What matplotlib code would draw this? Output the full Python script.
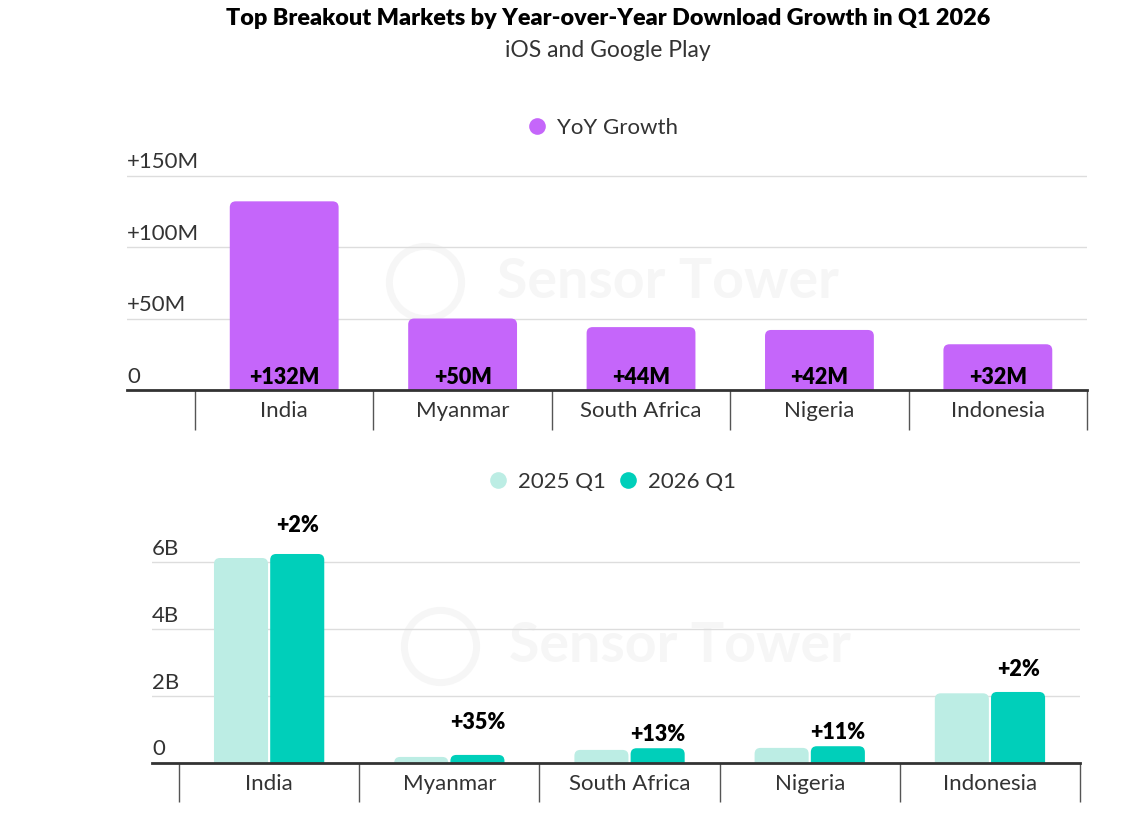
import matplotlib.pyplot as plt
from matplotlib.patches import FancyBboxPatch
from matplotlib.lines import Line2D

plt.rcParams['font.family'] = ['Lato', 'DejaVu Sans']

markets = ['India', 'Myanmar', 'South Africa', 'Nigeria', 'Indonesia']
yoy_growth = [132, 50, 44, 42, 32]          # millions
downloads_2025 = [6.12, 0.18, 0.39, 0.45, 2.08]  # billions
downloads_2026 = [6.24, 0.24, 0.44, 0.50, 2.12]  # billions
pct_labels = ['+2%', '+35%', '+13%', '+11%', '+2%']

purple = '#C566FA'
teal_light = '#BCEDE4'
teal = '#00CFBA'
text_col = '#333333'
grid_col = '#DDDDDD'

fig = plt.figure(figsize=(11.3, 8.14), dpi=100)

fig.text(0.538, 0.977, 'Top Breakout Markets by Year-over-Year Download Growth in Q1 2026',
         ha='center', va='center', fontsize=16.8, fontweight='heavy', color='black')
fig.text(0.538, 0.938, 'iOS and Google Play', ha='center', va='center',
         fontsize=16.5, color=text_col)


def round_bars(ax, bars, rx, aspect, below):
    for b in bars:
        x, w, h = b.get_x(), b.get_width(), b.get_height()
        p = FancyBboxPatch((x, -below), w, h + below,
                           boxstyle=f'round,pad=0,rounding_size={rx}',
                           mutation_aspect=aspect, facecolor=b.get_facecolor(),
                           edgecolor='none', zorder=b.get_zorder())
        ax.add_patch(p)
        b.remove()


def style_axis(ax, ticks, tick_fmt, tick_len, xleft):
    for s in ['top', 'right', 'left']:
        ax.spines[s].set_visible(False)
    ax.spines['bottom'].set_color(text_col)
    ax.spines['bottom'].set_linewidth(2)
    ax.spines['bottom'].set_zorder(5)
    ax.set_xlim(xleft, len(markets) - 0.5)
    ax.set_xticks(range(len(markets)))
    ax.set_xticklabels(markets, fontsize=16, color=text_col)
    ax.tick_params(axis='x', which='major', length=0, pad=8)
    ax.set_xticks([i - 0.5 for i in range(len(markets) + 1)], minor=True)
    ax.tick_params(axis='x', which='minor', length=tick_len, width=1,
                   color='#555555', direction='out')
    ax.set_yticks(ticks)
    ax.set_yticklabels([])
    ax.tick_params(axis='y', length=0)
    ax.grid(axis='y', color=grid_col, linewidth=1)
    ax.set_axisbelow(True)
    for t in ticks:
        ax.annotate(tick_fmt(t), (0, t), xycoords=ax.get_yaxis_transform(),
                    xytext=(0, 2.5), textcoords='offset points',
                    ha='left', va='bottom', fontsize=16, color=text_col)


def watermark(ax, cx):
    ax.text(cx + 0.075, 0.5, 'Sensor Tower', transform=ax.transAxes, ha='left',
            va='center', fontsize=40, fontweight='bold', color='#F6F6F6', zorder=0)
    ax.plot([cx], [0.5], transform=ax.transAxes, marker='o', markersize=52,
            markerfacecolor='none', markeredgecolor='#F6F6F6', markeredgewidth=5,
            zorder=0)


# top chart: YoY growth
ax1 = fig.add_axes([0.1124, 0.5209, 0.8496, 0.266])
ax1.set_ylim(0, 151.5)
bars1 = ax1.bar(range(len(markets)), yoy_growth, width=0.61, color=purple, zorder=3)
round_bars(ax1, bars1, 0.034, 124, 5)
for i, v in enumerate(yoy_growth):
    ax1.text(i, 1.5, f'+{v}M', ha='center', va='bottom', fontsize=15.5,
             fontweight='heavy', color='black', zorder=4)
style_axis(ax1, [0, 50, 100, 150],
           lambda t: '0' if t == 0 else f'+{t}M', 29, -0.881)
watermark(ax1, 0.31)

h1 = [Line2D([], [], marker='o', linestyle='none', markersize=12,
             markerfacecolor=purple, markeredgecolor='none')]
fig.legend(h1, ['YoY Growth'], loc='center', bbox_to_anchor=(0.534, 1 - 128 / 814),
           frameon=False, fontsize=16, handlelength=0.8, handletextpad=0.5,
           labelcolor=text_col)

# bottom chart: downloads
ax2 = fig.add_axes([0.1345, 0.0627, 0.8213, 0.288])
ax2.set_ylim(0, 7)
x = list(range(len(markets)))
w = 0.3
bars_a = ax2.bar([i - w / 2 - 0.006 for i in x], downloads_2025, width=w,
                 color=teal_light, zorder=3)
bars_b = ax2.bar([i + w / 2 + 0.006 for i in x], downloads_2026, width=w,
                 color=teal, zorder=3)
round_bars(ax2, bars_a, 0.033, 5.4, 0.3)
round_bars(ax2, bars_b, 0.033, 5.4, 0.3)
label_off = [18, 22, 3, 3, 12]
for i, (v, lab) in enumerate(zip(downloads_2026, pct_labels)):
    ax2.annotate(lab, (i + w / 2 + 0.006, v), xytext=(0, label_off[i] * 0.72),
                 textcoords='offset points', ha='center', va='bottom',
                 fontsize=15.5, fontweight='heavy', color='black', zorder=4)
style_axis(ax2, [0, 2, 4, 6], lambda t: '0' if t == 0 else f'{t}B', 28, -0.65)
watermark(ax2, 0.31)

h2 = [Line2D([], [], marker='o', linestyle='none', markersize=12,
             markerfacecolor=c, markeredgecolor='none') for c in (teal_light, teal)]
fig.legend(h2, ['2025 Q1', '2026 Q1'], loc='center', ncol=2,
           bbox_to_anchor=(0.542, 1 - 482 / 814), frameon=False, fontsize=16,
           handlelength=0.8, handletextpad=0.5, columnspacing=0.6,
           labelcolor=text_col)

fig.savefig('out.png', dpi=100)
